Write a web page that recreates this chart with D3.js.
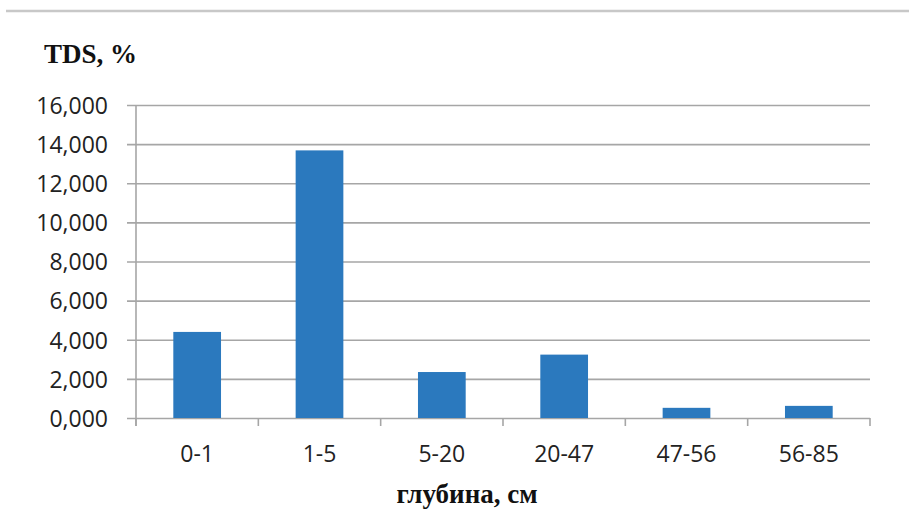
<!DOCTYPE html>
<html>
<head>
<meta charset="utf-8">
<script src="https://cdn.jsdelivr.net/npm/d3@7"></script>
<style>
  html, body { margin: 0; padding: 0; background: #fff; }
  svg { display: block; }
</style>
</head>
<body>
<svg id="chart" width="909" height="526"></svg>
<script>
const categories = ["0-1", "1-5", "5-20", "20-47", "47-56", "56-85"];
const values = [4.4, 13.68, 2.35, 3.24, 0.52, 0.62];
const yTicks = [0, 2, 4, 6, 8, 10, 12, 14, 16];
const yTitle = "TDS, %";
const xTitle = "глубина, см";

(function () {
const svg = d3.select("#chart");
const mLeft = 136, mRight = 870, mTop = 105, mBottom = 418;

// top rule
svg.append("line").attr("x1", 6).attr("x2", 909).attr("y1", 11).attr("y2", 11)
  .attr("stroke", "#c8c8c8").attr("stroke-width", 2.5);

const x = d3.scaleBand().domain(categories).range([mLeft, mRight]).paddingInner(0.61).paddingOuter(0.305);
const y = d3.scaleLinear().domain([0, 16]).range([mBottom, mTop]);

// gridlines + y axis labels
const yAxis = d3.axisLeft(y).tickValues(yTicks).tickSize(mRight - mLeft + 9).tickPadding(19)
  .tickFormat(v => String(v) + ",000");
const gy = svg.append("g").attr("transform", `translate(${mRight},0)`).call(yAxis);
gy.select(".domain").remove();
gy.selectAll(".tick line").attr("stroke", "#a6a6a6").attr("stroke-width", 1.6);
gy.selectAll(".tick text").attr("font-family", "'Open Sans', sans-serif").attr("font-size", 23)
  .attr("fill", "#222").attr("dy", "0.36em");

// y axis line
svg.append("line").attr("x1", mLeft).attr("x2", mLeft).attr("y1", mTop).attr("y2", mBottom + 8)
  .attr("stroke", "#a6a6a6").attr("stroke-width", 1.6);

// x ticks
const xBoundaries = d3.range(categories.length + 1).map(i => mLeft + i * x.step());
svg.append("g").selectAll("line").data(xBoundaries).join("line")
  .attr("x1", d => d).attr("x2", d => d).attr("y1", mBottom).attr("y2", mBottom + 8)
  .attr("stroke", "#a6a6a6").attr("stroke-width", 1.6);

// bars
svg.append("g").selectAll("rect").data(values).join("rect")
  .attr("x", (d, i) => x(categories[i]))
  .attr("width", x.bandwidth())
  .attr("y", d => y(d))
  .attr("height", d => y(0) - y(d))
  .attr("fill", "#2b79be");

// x labels
svg.append("g").selectAll("text").data(categories).join("text")
  .attr("x", d => x(d) + x.bandwidth() / 2).attr("y", 462)
  .attr("text-anchor", "middle")
  .attr("font-family", "'Open Sans', sans-serif").attr("font-size", 23).attr("fill", "#222")
  .text(d => d);

// titles
svg.append("text").attr("x", 44).attr("y", 63)
  .attr("font-family", "'Liberation Serif', serif").attr("font-weight", "bold").attr("font-size", 27)
  .attr("fill", "#111").text(yTitle);
svg.append("text").attr("x", 467).attr("y", 503).attr("text-anchor", "middle")
  .attr("font-family", "'Liberation Serif', serif").attr("font-weight", "bold").attr("font-size", 27)
  .attr("fill", "#111").text(xTitle);
})();
</script>
</body>
</html>
